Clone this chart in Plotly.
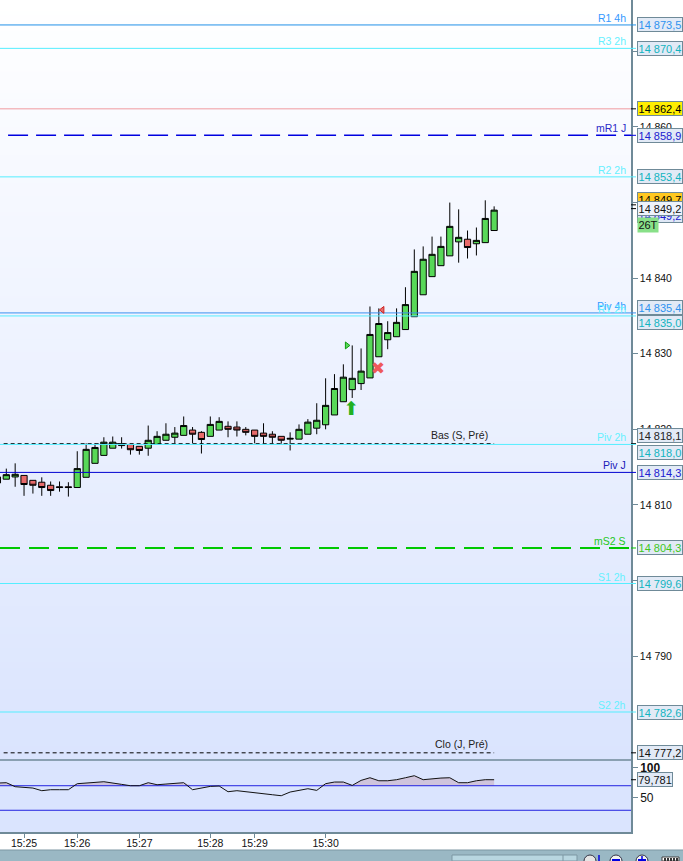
import plotly.graph_objects as go

# bougies
candle_idx = list(range(-1, 56))
opens = [14812.9, 14813.4, 14813.7, 14813.9, 14813.25, 14813.0, 14812.6, 14812.4, 14812.4, 14812.3,
         14813.65, 14815.5, 14816.55, 14817.5, 14817.85, 14818.0, 14817.75, 14817.5, 14818.0, 14818.55,
         14818.95, 14819.2, 14819.9, 14819.6, 14819.07, 14819.9, 14820.4, 14820.3, 14820.0, 14819.9,
         14819.5, 14819.35, 14819.07, 14818.7, 14818.7, 14819.35, 14820.15, 14820.6, 14821.9, 14823.65,
         14825.25, 14826.05, 14826.8, 14829.6, 14831.85, 14832.25, 14833.2, 14834.9, 14837.8, 14840.2,
         14841.65, 14842.95, 14844.8, 14845.15, 14844.55, 14844.7, 14846.3]
highs = [14813.7, 14814.8, 14815.5, 14813.9, 14813.25, 14813.65, 14813.1, 14813.1, 14813.0, 14817.1,
         14818.15, 14818.15, 14818.95, 14819.05, 14818.95, 14818.0, 14817.75, 14820.5, 14819.75, 14820.8,
         14820.3, 14821.7, 14820.3, 14819.75, 14821.7, 14821.6, 14821.05, 14821.05, 14820.3, 14819.9,
         14820.8, 14819.75, 14819.07, 14819.6, 14820.65, 14821.35, 14823.45, 14826.75, 14827.3, 14828.6,
         14831.1, 14830.7, 14836.25, 14836.0, 14834.3, 14836.0, 14838.8, 14843.8, 14844.2, 14845.5,
         14845.5, 14850.0, 14849.1, 14846.3, 14846.7, 14850.3, 14849.5]
lows = [14812.0, 14813.4, 14812.4, 14811.2, 14811.5, 14811.2, 14811.2, 14811.75, 14811.1, 14812.3,
        14813.65, 14815.5, 14816.55, 14817.5, 14817.45, 14816.65, 14816.65, 14816.5, 14818.0, 14818.55,
        14818.15, 14819.2, 14818.15, 14816.8, 14819.07, 14819.9, 14818.95, 14819.05, 14819.2, 14818.15,
        14818.15, 14818.15, 14818.1, 14817.2, 14818.7, 14819.35, 14819.35, 14820.0, 14821.9, 14823.65,
        14824.15, 14825.2, 14826.8, 14829.6, 14830.6, 14832.25, 14833.2, 14834.9, 14837.8, 14840.2,
        14841.65, 14842.95, 14842.05, 14842.6, 14843.0, 14844.7, 14846.3]
closes = [14813.7, 14814.0, 14814.05, 14812.7, 14812.6, 14812.3, 14811.9, 14812.3, 14812.3, 14814.8,
          14817.35, 14817.6, 14818.3, 14818.3, 14818.1, 14817.3, 14817.2, 14818.55, 14819.07, 14819.35,
          14819.5, 14820.5, 14819.35, 14818.65, 14820.65, 14821.05, 14820.0, 14819.9, 14819.6, 14819.07,
          14819.07, 14818.95, 14818.55, 14818.8, 14820.0, 14820.95, 14821.2, 14823.17, 14825.4, 14826.9,
          14826.75, 14827.7, 14832.55, 14834.0, 14832.8, 14834.15, 14836.5, 14840.9, 14842.5, 14843.15,
          14844.2, 14846.85, 14845.4, 14844.05, 14845.0, 14847.9, 14849.0]

# indicateur du bas
rsi = [74.3, 74.9, 68.4, 67.8, 66.2, 61.9, 63.5, 63.5, 63.5, 73.3, 74.9, 75.4, 76.5, 73.8, 72.2, 70.0,
       70.0, 74.9, 71.6, 72.7, 73.8, 74.9, 63.5, 66.2, 68.9, 69.5, 60.2, 61.9, 60.2, 57.5, 57.0, 55.3,
       53.7, 59.7, 62.4, 65.1, 62.4, 73.3, 76.0, 76.0, 70.5, 78.7, 83.0, 78.1, 78.1, 79.8, 83.0, 86.3,
       79.8, 81.4, 82.5, 83.0, 74.9, 74.9, 78.1, 79.8, 79.78]
rsi_levels = [70, 30]

# niveaux horizontaux
level_names = ["R1 4h", "R3 2h", "", "mR1 J", "R2 2h", "Piv 4h", "R1 2h", "Bas (S, Pré)", "Piv 2h",
               "Piv J", "mS2 S", "S1 2h", "S2 2h", "Clo (J, Pré)"]
level_prices = [14873.5, 14870.4, 14862.4, 14858.9, 14853.4, 14835.4, 14835.0, 14818.1, 14818.0,
                14814.3, 14804.3, 14799.6, 14782.6, 14777.2]
level_labels = ["14 873,5", "14 870,4", "14 862,4", "14 858,9", "14 853,4", "14 835,4", "14 835,0",
                "14 818,1", "14 818,0", "14 814,3", "14 804,3", "14 799,6", "14 782,6", "14 777,2"]

price_ticks = [14870, 14860, 14850, 14840, 14830, 14820, 14810, 14800, 14790]
price_ticktext = ["14 870", "14 860", "14 850", "14 840", "14 830", "14 820", "14 810", "14 800", "14 790"]
time_ticks = [2, 8, 15, 23, 28, 36]
time_labels = ["15:25", "15:26", "15:27", "15:28", "15:29", "15:30"]

# styles des niveaux, dans le meme ordre
CYAN = "#55eeff"
line_colors = ["#2090e8", CYAN, "#f09aa0", "#0000e0", CYAN, "#3a90f0", CYAN, "black", CYAN,
               "#0000d0", "#00c800", CYAN, CYAN, "black"]
line_dash = ["solid", "solid", "solid", "20px,8px", "solid", "solid", "solid", "4px,3px", "solid",
             "solid", "20px,9px", "solid", "solid", "4px,3px"]
line_width = [1, 1, 1, 1.5, 1, 1, 1, 1, 1, 1, 2.2, 1, 1, 1]
name_colors = ["#3399ff", "#66f0ff", "", "#2a2ac8", "#66f0ff", "#3399ff", "#66f0ff", "#222222", "#66f0ff",
               "#2020b8", "#22c822", "#66f0ff", "#66f0ff", "#222222"]
label_colors = ["#2e93f0", "#12b4c0", "black", "#2020d0", "#12b4c0", "#2e93f0", "#12b4c0", "#222222",
                "#12b4c0", "#2020d0", "#3fc81e", "#12b4c0", "#12b4c0", "#111111"]
label_shift = [0, 0, 0, 0, 0, 5, -7, 8, -8, 0, 0, 0, 0, 0]

W, H = 683, 861
PLOT_R = 631 / W
MAIN_B = 1 - 760 / H
SUB_B = 1 - 832 / H
XR = [-0.71, 70.43]
YR = [14776.25, 14876.8]
Y2R = [-5.4, 111.9]
FONT = "Liberation Sans"
BORDER = "#6f8a98"

fig = go.Figure()

# fond degrade
fig.add_trace(go.Heatmap(x=XR, y=YR, z=[[0, 0], [1, 1]], zsmooth="best", showscale=False, hoverinfo="skip",
                         zmin=0, zmax=1, colorscale=[[0, "#dae4fe"], [1, "#ffffff"]]))

for i in range(len(level_prices)):
    x_end = 55 if "Pré" in level_names[i] else XR[1]
    x_start = -0.3 if "Pré" in level_names[i] else XR[0]
    if level_names[i] == "mR1 J":
        x_start = 0.2
    fig.add_trace(go.Scatter(x=[x_start, x_end], y=[level_prices[i]] * 2, mode="lines", hoverinfo="skip",
                             line=dict(color=line_colors[i], width=line_width[i], dash=line_dash[i])))

fig.add_trace(go.Candlestick(
    x=candle_idx, open=opens, high=highs, low=lows, close=closes, whiskerwidth=0,
    increasing=dict(line=dict(color="black", width=1), fillcolor="#58d858"),
    decreasing=dict(line=dict(color="black", width=1), fillcolor="#e86a6a"),
))

# signaux sur le graphique
fig.add_trace(go.Scatter(x=[38.9], y=[14822.5], mode="text", text=["⬆"], hoverinfo="skip",
                         textfont=dict(family="DejaVu Sans", size=19, color="#22b022")))
fig.add_trace(go.Scatter(x=[41.9], y=[14827.9], mode="text", text=["✖"], hoverinfo="skip",
                         textfont=dict(family="DejaVu Sans", size=17, color="#ee5a5a")))
fig.add_trace(go.Scatter(x=[38.4], y=[14831.1], mode="markers", hoverinfo="skip",
                         marker=dict(symbol="triangle-right", size=6, color="#58d858",
                                     line=dict(color="#109a10", width=1))))
fig.add_trace(go.Scatter(x=[42.4], y=[14835.8], mode="markers", hoverinfo="skip",
                         marker=dict(symbol="triangle-left", size=6, color="#e86a6a",
                                     line=dict(color="#cc2020", width=1))))

# panneau du bas
rsi_x = candle_idx
fig.add_trace(go.Scatter(x=rsi_x, y=[70] * len(rsi_x), mode="lines", line=dict(width=0), yaxis="y2",
                         hoverinfo="skip"))
fig.add_trace(go.Scatter(x=rsi_x, y=[max(v, 70) for v in rsi], mode="lines", line=dict(width=0), yaxis="y2",
                         fill="tonexty", fillcolor="#cfc4dc", hoverinfo="skip"))
for lvl in rsi_levels:
    fig.add_trace(go.Scatter(x=XR, y=[lvl, lvl], mode="lines", yaxis="y2", hoverinfo="skip",
                             line=dict(color="#2222e0", width=1)))
fig.add_trace(go.Scatter(x=rsi_x, y=rsi, mode="lines", yaxis="y2", hoverinfo="skip",
                         line=dict(color="#111111", width=1)))

annotations = []
shapes = []


def price_box(text, y, yref, color, bg, shift=0, width=44, x_px=636.5, tick=None):
    annotations.append(dict(
        x=x_px / W, xref="paper", xanchor="left", y=y, yref=yref, yanchor="middle", yshift=shift,
        text=text, showarrow=False, width=width, height=13, align="center",
        font=dict(family=FONT, size=11, color=color), bgcolor=bg,
        bordercolor=BORDER, borderwidth=1, borderpad=0))
    if tick:
        shapes.append(dict(type="line", xref="paper", yref=yref, x0=PLOT_R, x1=636 / W, y0=y, y1=y,
                           line=dict(color=tick, width=1)))


# etiquettes cachees d'abord, celle du prix courant ensuite
price_box("14 849,7", 14849.7, "y", "black", "#ffc820", shift=5, tick="black")
price_box("14 849,2", 14849.2, "y", "#2020d0", "#dfe8f6", shift=-7)

for i in range(len(level_prices)):
    bg = "#ffee00" if level_labels[i] == "14 862,4" else "#e2eaf6"
    price_box(level_labels[i], level_prices[i], "y", label_colors[i], bg, shift=label_shift[i],
              tick="black" if line_colors[i] in ("black", "#f09aa0") else line_colors[i])
    if level_names[i]:
        is_pre = "Pré" in level_names[i]
        annotations.append(dict(
            x=(490 if is_pre else 628) / W, xref="paper", xanchor="right", y=level_prices[i], yref="y",
            yanchor="bottom", yshift=1 if is_pre else -1, text=level_names[i], showarrow=False,
            font=dict(family=FONT, size=10.5, color=name_colors[i])))

price_box("14 849,2", 14849.2, "y", "#111111", "#eef3fb", tick="black")
annotations.append(dict(x=636.5 / W, xref="paper", xanchor="left", y=14849.2, yref="y", yshift=-16,
                        yanchor="middle", text="26T", showarrow=False, width=20, height=14,
                        font=dict(family=FONT, size=11, color="#111111"), bgcolor="#88e088", borderpad=0))
price_box("79,781", rsi[-1], "y2", "#111111", "#e2eaf6", width=34, tick="black")

# barre d'outils en bas de la fenetre
TB = 1 - 850 / H
shapes.append(dict(type="rect", xref="paper", yref="paper", x0=0, x1=1, y0=0, y1=TB,
                   fillcolor="#9ab8c4", line=dict(width=0), layer="below"))
shapes.append(dict(type="line", xref="paper", yref="paper", x0=0, x1=1, y0=TB, y1=TB,
                   line=dict(color="#7d97a3", width=1)))
shapes.append(dict(type="rect", xref="paper", yref="paper", x0=452 / W, x1=577 / W, y0=0, y1=1 - 855 / H,
                   fillcolor="#b8d6e0", line=dict(color="#7d97a3", width=1)))
shapes.append(dict(type="line", xref="paper", yref="paper", x0=563 / W, x1=563 / W, y0=0, y1=1 - 855 / H,
                   line=dict(color="#7d97a3", width=1)))
for cx, col in [(590, "#e4e4e4"), (616, "#f2f2f2"), (642, "#f2f2f2")]:
    shapes.append(dict(type="circle", xref="paper", yref="paper", x0=(cx - 6) / W, x1=(cx + 6) / W,
                       y0=1 - 867 / H, y1=1 - 855 / H, fillcolor=col, line=dict(color="#333344", width=1)))
# petits signes bleus des boutons
for x0, x1 in [(612, 620), (638, 646)]:
    shapes.append(dict(type="line", xref="paper", yref="paper", x0=x0 / W, x1=x1 / W,
                       y0=1 - 860 / H, y1=1 - 860 / H, line=dict(color="#0000e0", width=2)))
for cx, y_top in [(642, 856), (599, 855)]:
    shapes.append(dict(type="line", xref="paper", yref="paper", x0=cx / W, x1=cx / W,
                       y0=0, y1=1 - y_top / H, line=dict(color="#0000e0", width=1.5)))
shapes.append(dict(type="rect", xref="paper", yref="paper", x0=662 / W, x1=679 / W, y0=0, y1=1 - 857 / H,
                   fillcolor="white", line=dict(color="#444444", width=1)))
for cx in (665, 668, 671, 674, 677):
    shapes.append(dict(type="line", xref="paper", yref="paper", x0=cx / W, x1=cx / W,
                       y0=0, y1=1 - 858 / H, line=dict(color="#333333", width=2)))

fig.update_layout(
    width=W, height=H, margin=dict(l=0, r=0, t=0, b=0), showlegend=False,
    paper_bgcolor="white", plot_bgcolor="#dae4fe", boxgap=0.3, boxgroupgap=0,
    font=dict(family=FONT, size=10.5, color="black"),
    xaxis=dict(domain=[0, PLOT_R], range=XR, anchor="y2", rangeslider=dict(visible=False), showgrid=False,
               zeroline=False, showline=True, linecolor=BORDER, linewidth=1.5, ticks="outside", ticklen=4,
               tickcolor=BORDER, tickvals=time_ticks, ticktext=time_labels, ticklabelstandoff=-3,
               tickfont=dict(family=FONT, size=10.5, color="#111111")),
    yaxis=dict(domain=[MAIN_B, 1], range=YR, side="right", anchor="x", showgrid=False, zeroline=False,
               showline=True, linecolor=BORDER, linewidth=1.5, ticks="outside", ticklen=5, tickcolor=BORDER,
               tickvals=price_ticks, ticktext=price_ticktext,
               tickfont=dict(family=FONT, size=10.5, color="#111111")),
    yaxis2=dict(domain=[SUB_B, MAIN_B], range=Y2R, side="right", anchor="x", showgrid=False, zeroline=False,
                showline=True, linecolor=BORDER, linewidth=1.5, ticks="outside", ticklen=5, tickcolor=BORDER,
                tickvals=[100, 50], ticktext=["<b>100</b>", "50"],
                tickfont=dict(family=FONT, size=12, color="#111111")),
    annotations=annotations, shapes=shapes,
)
# separation entre les deux panneaux
fig.add_shape(type="line", xref="paper", yref="paper", x0=0, x1=PLOT_R, y0=MAIN_B, y1=MAIN_B,
              line=dict(color=BORDER, width=1.5))

# la page a une marge de 8px par defaut
fig.write_html("out.html", config=dict(displayModeBar=False),
               post_script="document.body.style.margin='0';document.body.style.overflow='hidden';")
